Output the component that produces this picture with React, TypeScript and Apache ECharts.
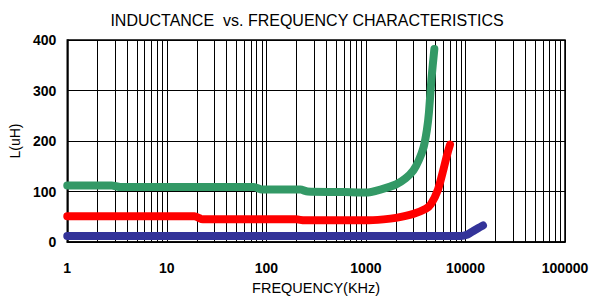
import React, { useEffect, useRef } from "react";
import * as echarts from "echarts";

const FONT = 'Arial, "Liberation Sans", sans-serif';

const titleText = "INDUCTANCE  vs. FREQUENCY CHARACTERISTICS";
const xAxisName = "FREQUENCY(KHz)";
const yAxisName = "L(uH)";

const yTicks = [0, 100, 200, 300, 400];
const xDecades = [1, 10, 100, 1000, 10000, 100000];
const minorGridFreqs = [
  2, 3, 4, 5, 6, 7, 8, 9,
  20, 30, 40, 50, 60, 70, 80, 90,
  200, 300, 400, 500, 600, 700, 800, 900,
  2000, 3000, 4000, 5000, 6000, 7000, 8000, 9000,
  20000, 30000, 40000, 50000, 60000, 70000, 80000, 90000,
];

const greenFreq = [1, 2.8, 3.4, 75, 90, 220, 260, 600, 1000, 1400, 2000, 2500, 3000, 3400, 3800, 4100, 4300, 4550, 4870];
const greenL = [112, 112, 109, 109, 104, 104, 100, 99, 98, 104, 114, 126, 142, 162, 188, 222, 257, 322, 382];

const redFreq = [1, 19, 23, 200, 240, 1000, 1500, 2000, 3000, 4000, 4500, 5300, 6000, 6600, 7000];
const redL = [51, 51, 45, 45, 43, 43, 45, 48, 56, 66, 75, 104, 143, 176, 193];

const blueFreq = [1, 100, 1000, 9000, 10500, 12000, 13500, 15000];
const blueL = [12, 12, 12, 12, 15, 22, 28, 33];

const zip = (xs: number[], ys: number[]) => xs.map((x, i) => [x, ys[i]]);

export default function App() {
  const ref = useRef<HTMLDivElement>(null);
  useEffect(() => {
    if (!ref.current) return;
    const chart = echarts.init(ref.current, undefined, { renderer: "svg" });
    const curve = (name: string, color: string, data: number[][]) => ({
      name,
      type: "line",
      data,
      showSymbol: false,
      symbol: "none",
      smooth: 0.2,
      z: 3,
      lineStyle: { color, width: 8, cap: "round", join: "round" },
    });
    chart.setOption({
      animation: false,
      title: {
        text: titleText,
        left: 302,
        textAlign: "center",
        top: 7,
        textStyle: { fontFamily: FONT, fontSize: 16, fontWeight: "normal", color: "#000" },
      },
      grid: {
        left: 66,
        right: 28,
        top: 40,
        bottom: 56,
        show: true,
        borderColor: "#000",
        borderWidth: 1.5,
        containLabel: false,
      },
      xAxis: {
        type: "log",
        logBase: 10,
        min: xDecades[0],
        max: xDecades[xDecades.length - 1],
        name: xAxisName,
        nameLocation: "middle",
        nameGap: 32,
        nameTextStyle: { fontFamily: FONT, fontSize: 14.5, color: "#000" },
        axisLine: { show: true, lineStyle: { color: "#000", width: 1.5 } },
        axisTick: { show: false },
        axisLabel: {
          fontFamily: FONT,
          fontSize: 14,
          fontWeight: "bold",
          color: "#000",
          margin: 19,
          formatter: (v: number) => String(Math.round(v)),
        },
        splitLine: { show: true, lineStyle: { color: "#000", width: 1 } },
      },
      yAxis: {
        type: "value",
        min: yTicks[0],
        max: yTicks[yTicks.length - 1],
        interval: 100,
        name: yAxisName,
        nameLocation: "middle",
        nameGap: 40,
        nameTextStyle: { fontFamily: FONT, fontSize: 14, color: "#000" },
        axisLine: { show: true, lineStyle: { color: "#000", width: 1.5 } },
        axisTick: { show: false },
        axisLabel: {
          fontFamily: FONT,
          fontSize: 14,
          fontWeight: "bold",
          color: "#000",
          margin: 11,
        },
        splitLine: { show: true, lineStyle: { color: "#000", width: 1.2 } },
      },
      series: [
        {
          type: "line",
          data: [],
          silent: true,
          markLine: {
            silent: true,
            symbol: "none",
            z: 1,
            animation: false,
            label: { show: false },
            lineStyle: { color: "#000", width: 1, type: "solid" },
            data: minorGridFreqs.map((f) => ({ xAxis: f })),
          },
        },
        curve("blue", "#333399", zip(blueFreq, blueL)),
        curve("red", "#ff0000", zip(redFreq, redL)),
        curve("green", "#339966", zip(greenFreq, greenL)),
      ],
    });
    return () => chart.dispose();
  }, []);
  return (
    <div
      ref={ref}
      style={{ position: "fixed", left: 0, top: 0, width: 593, height: 300, background: "#fff" }}
    />
  );
}
